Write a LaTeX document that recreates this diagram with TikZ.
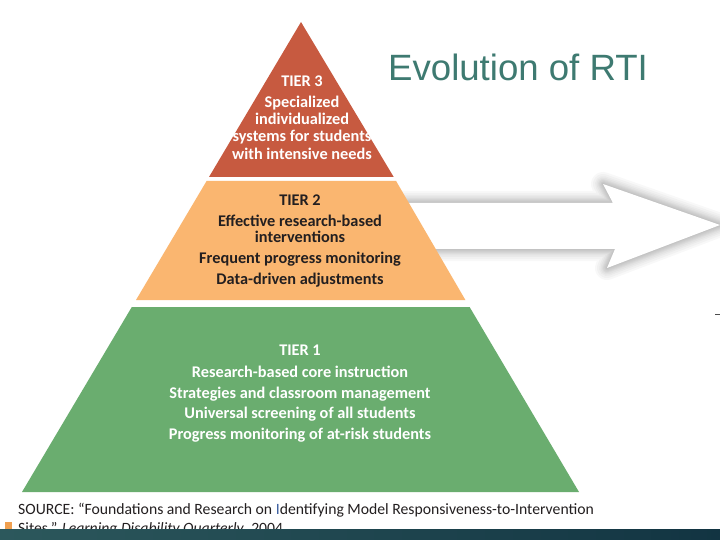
\documentclass[tikz,border=0pt]{standalone}
\usepackage{fontspec}
\setmainfont{Carlito}
\newfontfamily\titlefont{Liberation Sans}
\definecolor{tierthree}{RGB}{199,90,64}
\definecolor{tiertwo}{RGB}{250,182,112}
\definecolor{tierone}{RGB}{106,173,111}
\definecolor{darktext}{RGB}{35,31,32}
\definecolor{titleteal}{RGB}{62,122,113}
\definecolor{barleft}{RGB}{44,88,92}
\definecolor{barright}{RGB}{18,52,66}
\definecolor{srcorange}{RGB}{240,160,80}
\definecolor{srcblue}{RGB}{60,95,160}
\tikzset{
  tiertext/.style={font=\fontsize{16.3bp}{19bp}\selectfont\bfseries, anchor=base, inner sep=0pt},
  whitetext/.style={tiertext, text=white},
  blacktext/.style={tiertext, text=darktext},
  srctext/.style={font=\fontsize{15.7bp}{18bp}\selectfont, anchor=base west, inner sep=0pt, text=darktext},
  shadowstroke/.style={draw=black, line join=round, opacity=#1},
}
\begin{document}
\begin{tikzpicture}[x=1bp,y=-1bp]
\useasboundingbox (0,0) rectangle (720,540);
\fill[white] (0,0) rectangle (720,540);

% arrow with soft shadow
\coordinate (a1) at (400,203);
\coordinate (a2) at (613,203);
\coordinate (a3) at (603,184);
\coordinate (a4) at (720,225);
\coordinate (a5) at (607,268);
\coordinate (a6) at (615,249);
\coordinate (a7) at (400,249);
\foreach \w in {24,20,16,13,10,8,6,4,2}{
  \draw[shadowstroke=0.026, line width=\w bp, yshift=-1bp] (a1) -- (a2) -- (a3) -- (a4) -- (a5) -- (a6) -- (a7) -- cycle;
}
\fill[white] (a1) -- (a2) -- (a3) -- (a4) -- (a5) -- (a6) -- (a7) -- cycle;

% pyramid tiers
\coordinate (apex) at (301,22);
\coordinate (t3l) at (209,177);
\coordinate (t3r) at (393.7,177);
\coordinate (t2tl) at (206.6,181);
\coordinate (t2tr) at (396.1,181);
\coordinate (t2bl) at (136,300);
\coordinate (t2br) at (465.4,300);
\coordinate (t1tl) at (131.8,307);
\coordinate (t1tr) at (469.6,307);
\coordinate (t1bl) at (22,492);
\coordinate (t1br) at (579,492);
\fill[tierthree] (apex) -- (t3r) -- (t3l) -- cycle;
\fill[tiertwo] (t2tl) -- (t2tr) -- (t2br) -- (t2bl) -- cycle;
\fill[tierone] (t1tl) -- (t1tr) -- (t1br) -- (t1bl) -- cycle;

% tier 3 text
\node[whitetext] (t3a) at (302,87) {TIER 3};
\node[whitetext] (t3b) at (302,108) {Specialized};
\node[whitetext] (t3c) at (302,125) {individualized};
\node[whitetext] (t3d) at (302,142) {systems for students};
\node[whitetext] (t3e) at (302,160) {with intensive needs};

% tier 2 text
\node[blacktext] (t2a) at (300,206) {TIER 2};
\node[blacktext] (t2b) at (300,227) {Effective research-based};
\node[blacktext] (t2c) at (300,243) {interventions};
\node[blacktext] (t2d) at (300,264) {Frequent progress monitoring};
\node[blacktext] (t2e) at (300,285) {Data-driven adjustments};

% tier 1 text
\node[whitetext] (t1a) at (300,355) {TIER 1};
\node[whitetext] (t1b) at (300,377) {Research-based core instruction};
\node[whitetext] (t1c) at (300,398) {Strategies and classroom management};
\node[whitetext] (t1d) at (300,418) {Universal screening of all students};
\node[whitetext] (t1e) at (300,439) {Progress monitoring of at-risk students};

% title
\node[font=\titlefont\fontsize{36.6bp}{42bp}\selectfont, text=titleteal, anchor=base west, inner sep=0pt] (title) at (388,81) {Evolution of RTI};

% small dash at right edge
\coordinate (d1) at (715,314);
\coordinate (d2) at (720,314);
\draw[line width=0.8bp, color=black!70] (d1) -- (d2);

% source text
\node[srctext] (src1) at (18,514.5) {SOURCE: “Foundations and Research on \textcolor{srcblue}{I}dentifying Model Responsiveness-to-Intervention};
\node[srctext] (src2) at (18,533) {Sites.” \textit{Learning Disability Quarterly}, 2004};
\fill[srcorange] (5,522) rectangle (12,529);

% bottom bar
\shade[left color=barleft, right color=barright] (0,529) rectangle (720,540);
\end{tikzpicture}
\end{document}
